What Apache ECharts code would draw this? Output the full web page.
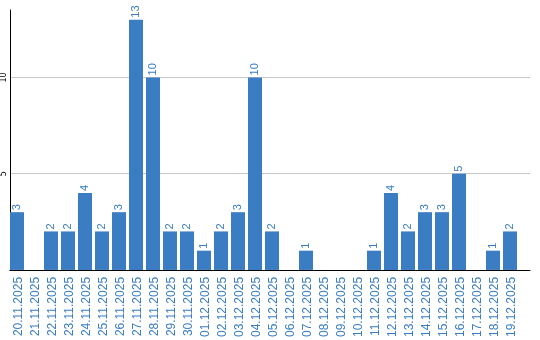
<!DOCTYPE html>
<html>
<head>
<meta charset="utf-8">
<script src="https://cdn.jsdelivr.net/npm/echarts@6/dist/echarts.min.js"></script>
<style>html,body{margin:0;padding:0;background:#fff}#c{width:540px;height:340px}</style>
</head>
<body>
<div id="c"></div>
<script>
const categories = ['20.11.2025','21.11.2025','22.11.2025','23.11.2025','24.11.2025','25.11.2025','26.11.2025','27.11.2025','28.11.2025','29.11.2025','30.11.2025','01.12.2025','02.12.2025','03.12.2025','04.12.2025','05.12.2025','06.12.2025','07.12.2025','08.12.2025','09.12.2025','10.12.2025','11.12.2025','12.12.2025','13.12.2025','14.12.2025','15.12.2025','16.12.2025','17.12.2025','18.12.2025','19.12.2025'];
const values = [3,0,2,2,4,2,3,13,10,2,2,1,2,3,10,2,0,1,0,0,0,1,4,2,3,3,5,0,1,2];
const spacer = values.map(() => 0);

const blue = '#3a7dc2';
const chart = echarts.init(document.getElementById('c'), null, {renderer: 'canvas'});
chart.setOption({
  animation: false,
  grid: [
    {left: 10, right: 20, top: 10, bottom: 70},
    {left: 10, right: 10, top: 10, bottom: 70}
  ],
  xAxis: [
    {
      type: 'category', data: categories, gridIndex: 0,
      axisLine: {lineStyle: {color: '#000', width: 1}},
      axisTick: {show: false},
      axisLabel: {interval: 0, rotate: 90, fontSize: 12, color: blue, fontFamily: 'Liberation Sans', margin: 7}
    },
    {
      type: 'value', gridIndex: 1, min: 0, max: 1,
      axisLine: {show: true, lineStyle: {color: '#000', width: 1}},
      axisTick: {show: false}, axisLabel: {show: false}, splitLine: {show: false}
    }
  ],
  yAxis: [
    {
      type: 'value', gridIndex: 0, min: 0, max: 13.5, interval: 5,
      axisLine: {show: true, lineStyle: {color: '#000', width: 1}},
      axisTick: {show: false},
      axisLabel: {rotate: 90, fontSize: 8, color: '#000', margin: 2, showMaxLabel: false, showMinLabel: false, fontFamily: 'DejaVu Sans'},
      splitLine: {show: false}
    },
    {
      type: 'value', gridIndex: 1, min: 0, max: 13.5, interval: 5,
      axisLine: {show: false}, axisTick: {show: false}, axisLabel: {show: false},
      splitLine: {show: true, showMaxLine: false, showMinLine: false, lineStyle: {color: '#c8c8c8', width: 1}}
    }
  ],
  series: [
    {
      type: 'bar', data: values, barWidth: 14, barGap: '0%', xAxisIndex: 0, yAxisIndex: 0,
      itemStyle: {color: blue},
      label: {
        show: true, position: 'top', rotate: 90, align: 'left', verticalAlign: 'middle',
        distance: 2, fontSize: 11, color: blue, fontFamily: 'Liberation Sans',
        formatter: p => p.value ? String(p.value) : ''
      }
    },
    {
      type: 'bar', data: spacer, barWidth: 3, barGap: '0%', xAxisIndex: 0, yAxisIndex: 0,
      itemStyle: {color: 'rgba(0,0,0,0)'}, silent: true
    }
  ]
});
</script>
</body>
</html>
